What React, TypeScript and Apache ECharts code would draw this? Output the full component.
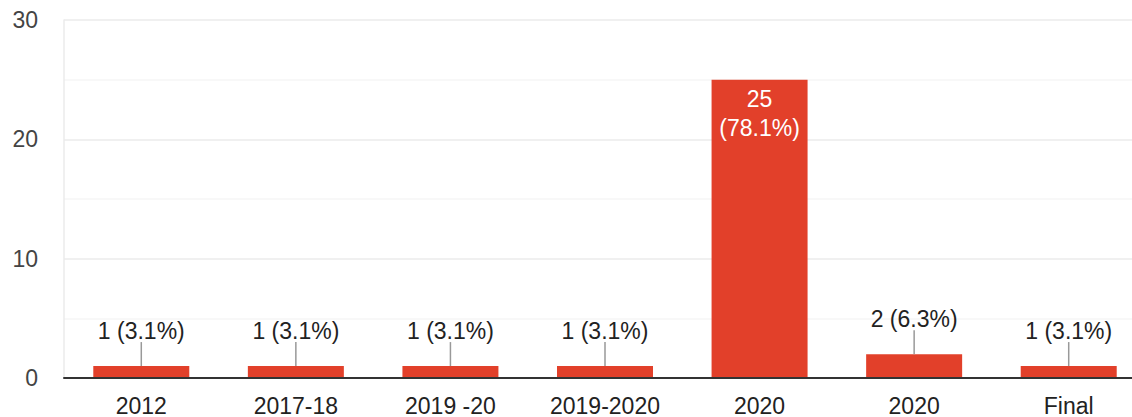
import React, { useEffect, useRef } from "react";
import * as echarts from "echarts";

const categories = ["2012", "2017-18", "2019 -20", "2019-2020", "2020", "2020", "Final"];
const counts = [1, 1, 1, 1, 25, 2, 1];
const percents = ["3.1%", "3.1%", "3.1%", "3.1%", "78.1%", "6.3%", "3.1%"];
const insideLabel = [false, false, false, false, true, false, false];
const yTicks = { min: 0, max: 30, interval: 10 };

const FONT = "Arial, 'Liberation Sans', sans-serif";
const RED = "#e2402a";
const FS = 23;

export default function App() {
  const ref = useRef<HTMLDivElement>(null);
  useEffect(() => {
    if (!ref.current) return;
    const chart = echarts.init(ref.current, undefined, { renderer: "svg" });
    const barData = counts.map((v, i) => {
      if (insideLabel[i]) {
        return {
          value: v,
          label: {
            show: true,
            position: "insideTop",
            distance: 5,
            color: "#ffffff",
            fontSize: FS,
            lineHeight: 29,
            fontFamily: FONT,
            formatter: `${v}\n(${percents[i]})`,
          },
        };
      }
      return {
        value: v,
        label: {
          show: true,
          position: "top",
          distance: 24,
          color: "#222222",
          fontSize: FS,
          lineHeight: 22,
          fontFamily: FONT,
          formatter: `${v} (${percents[i]})`,
        },
      };
    });
    const connectorData = counts
      .map((v, i) => (insideLabel[i] ? null : [i, v]))
      .filter((d) => d !== null);

    chart.setOption({
      animation: false,
      grid: { left: 64, top: 20, right: 0, bottom: 39, containLabel: false },
      xAxis: {
        type: "category",
        data: categories,
        axisTick: { show: false },
        axisLine: { show: true, lineStyle: { color: "#333333", width: 2 } },
        axisLabel: {
          color: "#222222",
          fontSize: FS,
          fontFamily: FONT,
          margin: 16,
          interval: 0,
        },
        splitLine: { show: false },
        z: 10,
      },
      yAxis: {
        type: "value",
        min: yTicks.min,
        max: yTicks.max,
        interval: yTicks.interval,
        axisLine: { show: true, lineStyle: { color: "#ebebeb", width: 1.5 } },
        axisTick: { show: false },
        axisLabel: {
          color: "#444444",
          fontSize: FS,
          fontFamily: FONT,
          margin: 26,
        },
        splitLine: { show: true, lineStyle: { color: "#ebebeb", width: 1.5 } },
        minorTick: { show: false, splitNumber: 2 },
        minorSplitLine: { show: true, lineStyle: { color: "#f6f6f6", width: 1.5 } },
      },
      series: [
        {
          type: "bar",
          data: barData,
          barWidth: 96,
          itemStyle: { color: RED },
          z: 3,
        },
        {
          type: "custom",
          data: connectorData,
          z: 4,
          silent: true,
          renderItem: (params: any, api: any) => {
            const p = api.coord([api.value(0), api.value(1)]);
            return {
              type: "line",
              shape: { x1: p[0], y1: p[1], x2: p[0], y2: p[1] - 24 },
              style: { stroke: "#999999", lineWidth: 1.5 },
            };
          },
        },
      ],
    });
    return () => chart.dispose();
  }, []);
  return (
    <div style={{ position: "fixed", left: 0, top: 0, width: 1132, height: 417, overflow: "hidden", background: "#ffffff" }}>
      <div ref={ref} style={{ position: "absolute", left: 0, top: 0, width: 1146, height: 417 }} />
    </div>
  );
}
